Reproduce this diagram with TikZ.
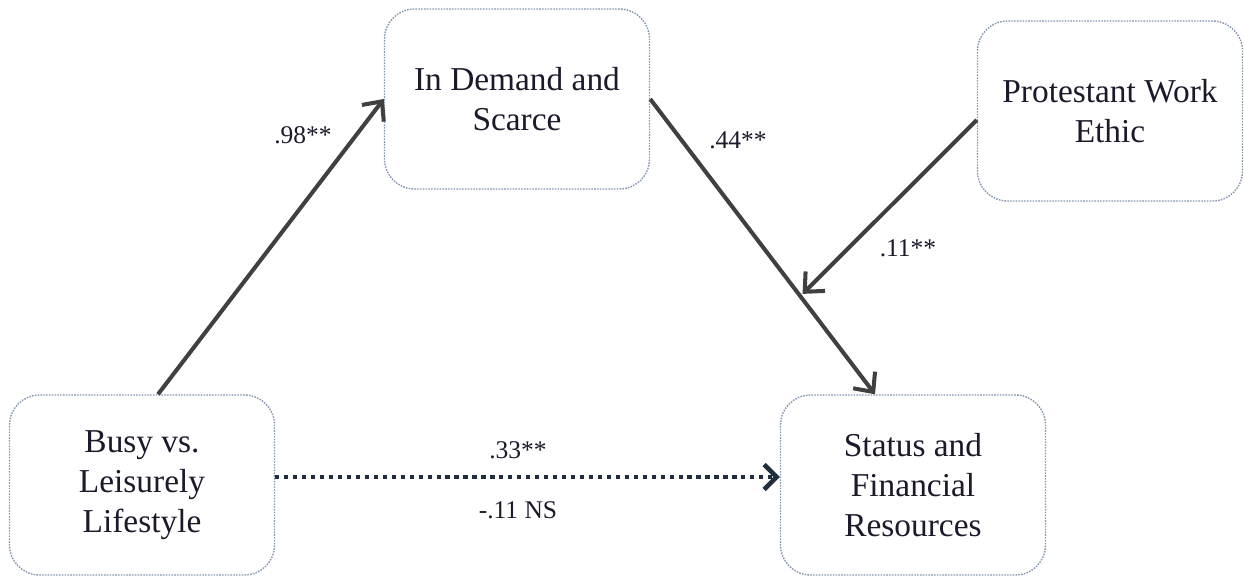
\documentclass[tikz,border=0pt]{standalone}
\usepackage{fontspec}
\setmainfont{Liberation Serif}
\usepackage{xcolor}
\usetikzlibrary{arrows.meta,calc}

\definecolor{boxline}{HTML}{8496B0}
\definecolor{pathgrey}{HTML}{404040}
\definecolor{dotnavy}{HTML}{1F2D3D}
\definecolor{textnavy}{HTML}{1A1A2A}

\tikzset{
	varbox/.style={draw=boxline, line width=0.8pt, dash pattern=on 0.9pt off 0.7pt, rounded corners=0.6cm,
		minimum width=5.3cm, minimum height=3.6cm, align=center, text=textnavy,
		font=\fontsize{19}{22.8}\selectfont},
	path/.style={draw=pathgrey, line width=2.3pt, -{Straight Barb[length=3mm,width=5.5mm]}},
	coef/.style={font=\fontsize{14.5}{17}\selectfont, text=textnavy},
}

\begin{document}
\begin{tikzpicture}
	\useasboundingbox (0,0) rectangle (24.88,11.52);

	% variables
	\node[varbox] (demand) at (10.34,9.54) {In Demand and\\Scarce};
	\node[varbox] (pwe) at (22.2,9.3) {Protestant Work\\Ethic};
	\node[varbox] (busy) at (2.84,1.82) {Busy vs.\\Leisurely\\Lifestyle};
	\node[varbox] (status) at (18.26,1.82) {Status and\\Financial\\Resources};

	% paths
	\draw[path] ([xshift=0.32cm]busy.north) -- (demand.west);
	\draw[path] (demand.east) -- ([xshift=-0.76cm]status.north);
	\coordinate (meet) at ($(demand.east)!0.66!([xshift=-0.76cm]status.north)$);
	\draw[path] ([yshift=-0.18cm]pwe.west) -- ([xshift=0.08cm]meet);
	\draw[draw=dotnavy, line width=2.2pt, dash pattern=on 2.4pt off 2.7pt, -{Straight Barb[length=2.5mm,width=5mm,line width=2.6pt]}]
		([yshift=0.16cm]busy.east) -- ([yshift=0.16cm]status.west);

	% coefficients
	\node[coef] (c98) at (6.06,8.82) {.98**};
	\node[coef] (c44) at (14.76,8.72) {.44**};
	\node[coef] (c11) at (18.16,6.56) {.11**};
	\node[coef] (c33) at (10.36,2.52) {.33**};
	\node[coef] (cns) at (10.36,1.32) {-.11 NS};
\end{tikzpicture}
\end{document}
